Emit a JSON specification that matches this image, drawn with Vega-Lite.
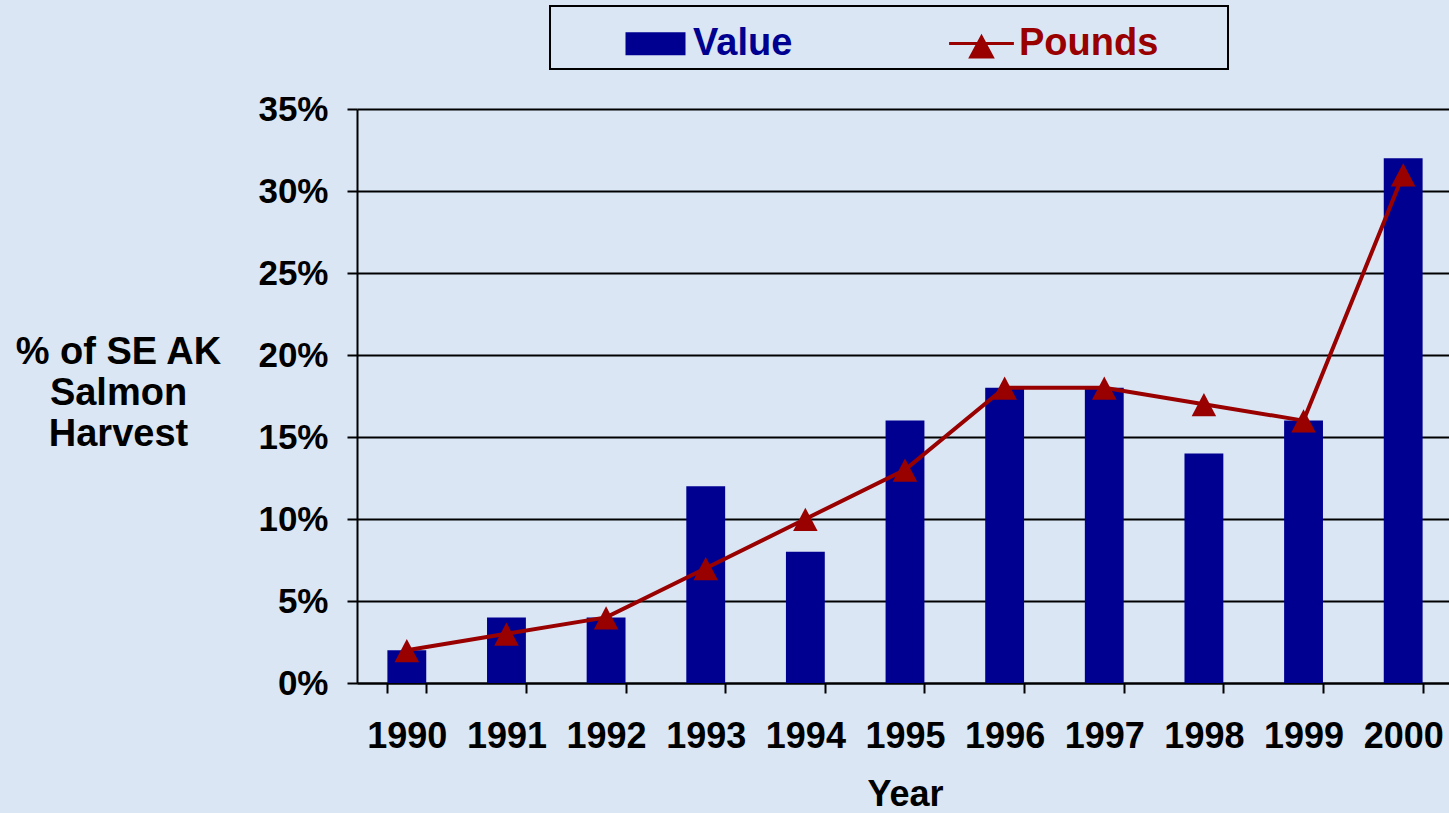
{
  "$schema": "https://vega.github.io/schema/vega-lite/v6.json",
  "width": 1096,
  "height": 574,
  "autosize": {"type": "none"},
  "padding": {"left": 357, "top": 109, "right": 0, "bottom": 130},
  "background": "#dae6f4",
  "config": {"view": {"stroke": null}, "font": "Liberation Sans", "legend": {"strokeWidth": 2}},
  "data": {
    "values": [
      {"year": "1990", "series": "Value", "pct": 0.02},
      {"year": "1991", "series": "Value", "pct": 0.04},
      {"year": "1992", "series": "Value", "pct": 0.04},
      {"year": "1993", "series": "Value", "pct": 0.12},
      {"year": "1994", "series": "Value", "pct": 0.08},
      {"year": "1995", "series": "Value", "pct": 0.16},
      {"year": "1996", "series": "Value", "pct": 0.18},
      {"year": "1997", "series": "Value", "pct": 0.18},
      {"year": "1998", "series": "Value", "pct": 0.14},
      {"year": "1999", "series": "Value", "pct": 0.16},
      {"year": "2000", "series": "Value", "pct": 0.32},
      {"year": "1990", "series": "Pounds", "pct": 0.02},
      {"year": "1991", "series": "Pounds", "pct": 0.03},
      {"year": "1992", "series": "Pounds", "pct": 0.04},
      {"year": "1993", "series": "Pounds", "pct": 0.07},
      {"year": "1994", "series": "Pounds", "pct": 0.10},
      {"year": "1995", "series": "Pounds", "pct": 0.13},
      {"year": "1996", "series": "Pounds", "pct": 0.18},
      {"year": "1997", "series": "Pounds", "pct": 0.18},
      {"year": "1998", "series": "Pounds", "pct": 0.17},
      {"year": "1999", "series": "Pounds", "pct": 0.16},
      {"year": "2000", "series": "Pounds", "pct": 0.31}
    ]
  },
  "encoding": {
    "x": {
      "field": "year",
      "type": "ordinal",
      "scale": {"paddingInner": 0.61, "paddingOuter": 0.305},
      "axis": {
        "labelAngle": 0,
        "labelFont": "Liberation Sans",
        "labelFontSize": 36,
        "labelFontWeight": "bold",
        "labelColor": "#000000",
        "labelPadding": 26,
        "tickBand": "extent",
        "tickSize": 10,
        "tickWidth": 2,
        "tickColor": "#000000",
        "domainColor": "#000000",
        "domainWidth": 2,
        "grid": false,
        "title": "Year",
        "titleFont": "Liberation Sans",
        "titleFontSize": 36,
        "titleFontWeight": "bold",
        "titleColor": "#000000",
        "titleBaseline": "alphabetic",
        "titleY": 122
      }
    },
    "y": {
      "field": "pct",
      "type": "quantitative",
      "scale": {"domain": [0, 0.35], "nice": false},
      "axis": {
        "values": [0, 0.05, 0.1, 0.15, 0.2, 0.25, 0.3, 0.35],
        "format": ".0%",
        "labelFont": "Liberation Sans",
        "labelFontSize": 35,
        "labelFontWeight": "bold",
        "labelColor": "#000000",
        "labelPadding": 19,
        "tickSize": 10,
        "tickWidth": 2,
        "tickColor": "#000000",
        "domainColor": "#000000",
        "domainWidth": 2,
        "grid": true,
        "gridColor": "#000000",
        "gridWidth": 2,
        "gridOpacity": 1,
        "title": ["% of SE AK", "Salmon", "Harvest"],
        "titleFont": "Liberation Sans",
        "titleFontSize": 38,
        "titleFontWeight": "bold",
        "titleColor": "#000000",
        "titleAngle": 0,
        "titleAlign": "center",
        "titleBaseline": "alphabetic",
        "titleX": -239,
        "titleY": 254,
        "titleLineHeight": 41
      }
    }
  },
  "layer": [
    {
      "transform": [{"filter": "datum.series === 'Value'"}],
      "mark": {"type": "bar", "opacity": 1},
      "encoding": {
        "color": {
          "field": "series",
          "type": "nominal",
          "scale": {"domain": ["Value", "Pounds"], "range": ["#000090", "#990000"]},
          "legend": {
            "orient": "none",
            "legendX": 193,
            "legendY": -103,
            "direction": "horizontal",
            "columns": 2,
            "title": "\u00a0",
            "titleOrient": "left",
            "titleFontSize": 10,
            "titlePadding": 68,
            "padding": 6,
            "strokeColor": "#000000",
            "symbolSize": 3600,
            "symbolStrokeWidth": 3,
            "symbolOpacity": 1,
            "symbolType": {"expr": "datum.value === 'Value' ? 'M-0.95,-0.33H0.95V0.33H-0.95Z' : 'M-1.08,0H1.08M-0.36,0.45L0,-0.22L0.36,0.45Z'"},
            "symbolStrokeColor": {"expr": "datum.value === 'Value' ? '#000090' : '#990000'"},
            "symbolFillColor": {"expr": "datum.value === 'Value' ? '#000090' : '#990000'"},
            "labelColor": {"expr": "datum.value === 'Value' ? '#000090' : '#990000'"},
            "labelFont": "Liberation Sans",
            "labelFontSize": 38,
            "labelFontWeight": "bold",
            "labelOffset": 6,
            "labelLimit": 400,
            "columnPadding": 150,
            "labelExpr": "datum.value === 'Pounds' ? 'Pounds\u00a0\u00a0\u00a0\u00a0\u00a0\u00a0\u200b' : datum.label"
          }
        }
      }
    },
    {
      "transform": [{"filter": "datum.series === 'Pounds'"}],
      "mark": {"type": "line", "strokeWidth": 4, "color": "#990000"}
    },
    {
      "transform": [{"filter": "datum.series === 'Pounds'"}],
      "mark": {
        "type": "point",
        "shape": "M0,-0.92L1,0.98L-1,0.98Z",
        "size": 600,
        "filled": true,
        "color": "#990000",
        "opacity": 1,
        "strokeWidth": 0
      }
    }
  ]
}
